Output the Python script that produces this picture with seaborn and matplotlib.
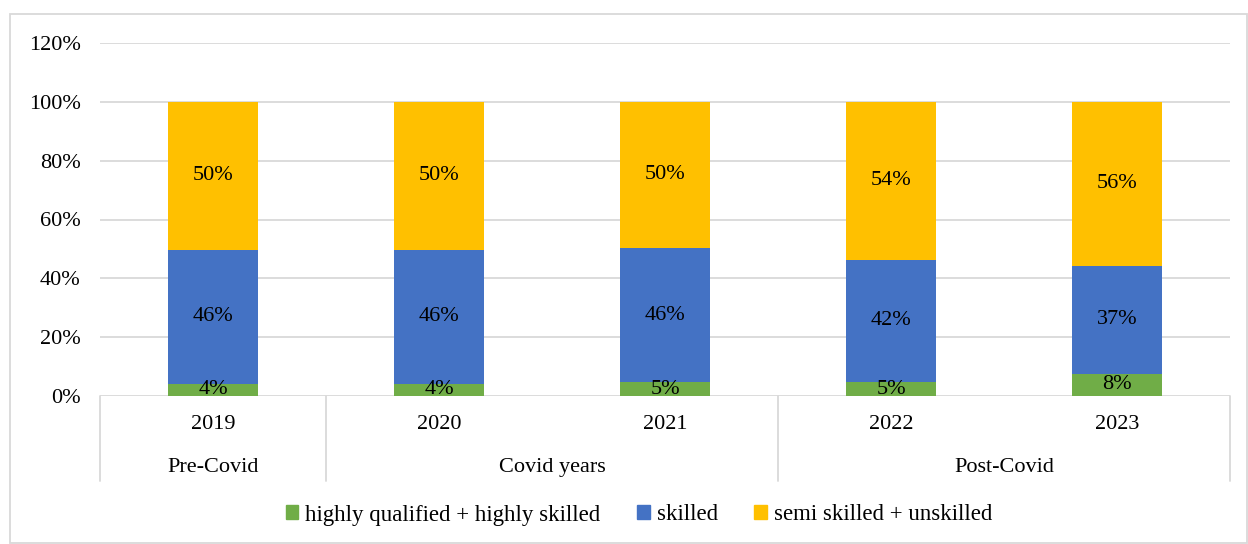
import pandas as pd
import seaborn as sns
import matplotlib.pyplot as plt
from matplotlib.patches import Patch, Rectangle

# values (shares, %)
years = ['2019', '2020', '2021', '2022', '2023']
periods = ['Pre-Covid', 'Covid years', 'Post-Covid']
period_span = [(0, 0), (1, 2), (3, 4)]
highly = [4.1, 4.1, 4.6, 4.7, 7.6]
skilled = [45.6, 45.7, 45.7, 41.6, 36.6]
semi = [50.3, 50.2, 49.7, 53.7, 55.8]
series_names = ['highly qualified + highly skilled', 'skilled', 'semi skilled + unskilled']
colors = ['#70ad47', '#4472c4', '#ffc000']

df = pd.DataFrame({'year': years, 'highly': highly, 'skilled': skilled, 'semi': semi})
df['b2'] = df['highly'] + df['skilled']

sns.set_style('white')
plt.rcParams['font.family'] = ['Liberation Serif', 'DejaVu Serif']
plt.rcParams['text.color'] = 'black'
plt.rcParams['ytick.color'] = 'black'

fig = plt.figure(figsize=(12.48, 5.44), dpi=100)
ax = fig.add_axes([100 / 1248, 1 - 396 / 544, 1130 / 1248, 353 / 544])

bar_kw = dict(width=0.4, ax=ax, order=years, saturation=1, linewidth=0)
sns.barplot(data=df, x='year', y='highly', color=colors[0], **bar_kw)
sns.barplot(data=df, x='year', y='skilled', bottom=df['highly'], color=colors[1], **bar_kw)
sns.barplot(data=df, x='year', y='semi', bottom=df['b2'], color=colors[2], **bar_kw)

for cont, vals in zip(ax.containers, [highly, skilled, semi]):
    ax.bar_label(cont, labels=[f'{round(v)}%' for v in vals], label_type='center', fontsize=16, color='black')

ax.set_xlim(-0.5, 4.5)
ax.set_ylim(0, 120)
ax.set_yticks(range(0, 121, 20))
ax.set_yticklabels([f'{t}%' for t in range(0, 121, 20)], fontsize=16)
ax.tick_params(axis='y', length=0, pad=14)
ax.set_xticks([])
ax.set_xlabel('')
ax.set_ylabel('')
ax.grid(axis='y', color='#d9d9d9', lw=1.3)
ax.set_axisbelow(True)
for s in ax.spines.values():
    s.set_visible(False)

trans = ax.get_xaxis_transform()
for i, y in enumerate(years):
    ax.text(i, -0.082, y, transform=trans, ha='center', va='center', fontsize=16)
for name, (a, b) in zip(periods, period_span):
    ax.text((a + b) / 2, -0.203, name, transform=trans, ha='center', va='center', fontsize=16)
for xs in [-0.5, 0.5, 2.5, 4.5]:
    ax.plot([xs, xs], [0, -0.24], transform=trans, color='#d9d9d9', lw=1.3, clip_on=False)

handles = [Patch(color=c, label=n) for c, n in zip(colors, series_names)]
fig.legend(handles=handles, loc='center', bbox_to_anchor=(0.512, 1 - 515 / 544), ncol=3, frameon=False,
           fontsize=16.5, handlelength=0.55, handleheight=0.55, handletextpad=0.3, columnspacing=1.6)

fig.patches.append(Rectangle((10 / 1248, 0.002), 1 - 11 / 1248, 1 - 14 / 544 - 0.002, transform=fig.transFigure,
                             fill=False, edgecolor='#d9d9d9', lw=1.3))

fig.savefig('out.png', dpi=100)
